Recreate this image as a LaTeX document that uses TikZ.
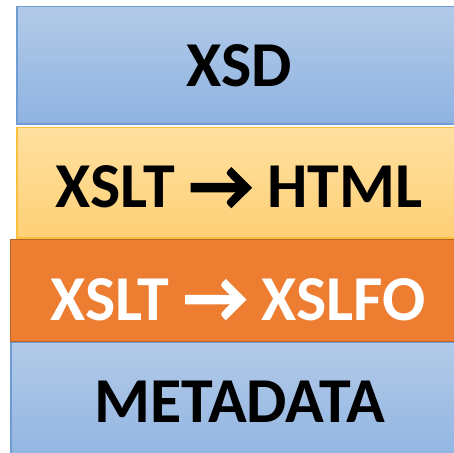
\documentclass[tikz,border=0pt]{standalone}
\usepackage{fontspec}
\setmainfont{Carlito}
\newfontfamily\arrowfont{Carlito}[FakeBold=2.5]
\newcommand{\rarr}{{\arrowfont\bfseries\fontsize{70bp}{70bp}\selectfont\raisebox{-1bp}{→}}}
\begin{document}
\begin{tikzpicture}[x=1bp,y=-1bp,
  lbl/.style={anchor=base,inner sep=0pt,font=\fontsize{64bp}{70bp}\selectfont\bfseries},
  bluebox/.style={draw=blueedge,line width=1.2bp,top color=bluetop,bottom color=bluebot},
  paleorange/.style={draw=goldedge,line width=1.2bp,top color=paletop,bottom color=palebot},
  orangebox/.style={draw=orangeedge,line width=1.2bp,fill=orangefill}]
\definecolor{bluetop}{RGB}{178,202,232}
\definecolor{bluebot}{RGB}{143,179,225}
\definecolor{blueedge}{RGB}{110,156,212}
\definecolor{paletop}{RGB}{255,224,160}
\definecolor{palebot}{RGB}{254,208,118}
\definecolor{goldedge}{RGB}{248,192,60}
\definecolor{orangefill}{RGB}{237,125,49}
\definecolor{orangeedge}{RGB}{184,100,40}
\useasboundingbox (0,0) rectangle (454,453);
\clip (0,0) rectangle (454,453);
\draw[bluebox] (17,6.5) rectangle (470,124);
\draw[paleorange] (17,127.5) rectangle (470,238);
\draw[orangebox] (10.5,239.5) rectangle (470,341.5);
\draw[bluebox] (11,342.5) rectangle (470,470);
\node[lbl] (xsd) at (239,87) {XSD};
\node[lbl] (html) at (239,208) {XSLT \rarr{} HTML};
\node[lbl,text=white] (xslfo) at (238,320) {XSLT \rarr{} XSLFO};
\node[lbl] (meta) at (239.5,422) {METADATA};
\end{tikzpicture}
\end{document}
